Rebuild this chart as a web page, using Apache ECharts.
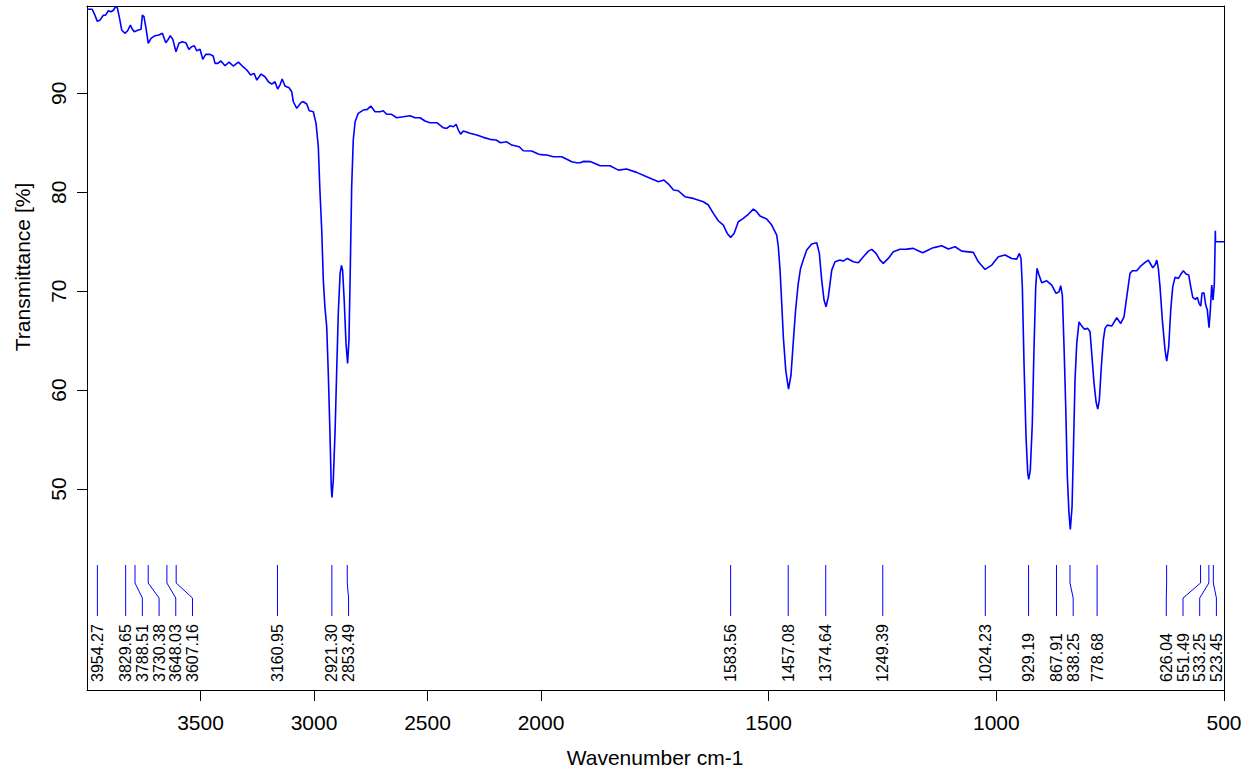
<!DOCTYPE html>
<html lang="en">
<head>
    <meta charset="UTF-8">
    <title>IR Spectrum</title>
    <script src="https://cdn.jsdelivr.net/npm/echarts@6.0.0/dist/echarts.min.js"></script>
    <style>
        html, body { margin: 0; padding: 0; background: #fff; }
        #chart { width: 1260px; height: 775px; }
    </style>
</head>
<body>
    <div id="chart"></div>

    <script>
        // spectrum (wavenumber cm-1 / transmittance %)
        const wavenumbers = [
            4000, 3977, 3965, 3955, 3943, 3928, 3918, 3906, 3894, 3884,
            3874, 3867, 3858, 3847, 3833, 3821, 3809, 3800, 3792, 3774,
            3762, 3756, 3749, 3740, 3730, 3718, 3700, 3683, 3668, 3653,
            3644, 3633, 3622, 3608, 3595, 3580, 3565, 3551, 3539, 3527,
            3517, 3502, 3490, 3477, 3458, 3444, 3436, 3424, 3410, 3392,
            3374, 3356, 3333, 3316, 3296, 3279, 3264, 3252, 3233, 3216,
            3201, 3186, 3172, 3160, 3150, 3140, 3128, 3110, 3098, 3091,
            3076, 3062, 3054, 3047, 3032, 3021, 3003, 2991, 2981, 2974,
            2966, 2959, 2952, 2944, 2937, 2930, 2924, 2921, 2915, 2907,
            2900, 2893, 2885, 2879, 2874, 2867, 2859, 2852, 2846, 2840,
            2834, 2827, 2819, 2805, 2783, 2765, 2750, 2731, 2709, 2695,
            2680, 2658, 2636, 2607, 2577, 2555, 2533, 2511, 2489, 2459,
            2430, 2415, 2401, 2386, 2374, 2364, 2354, 2342, 2313, 2283,
            2254, 2225, 2198, 2178, 2151, 2129, 2096, 2078, 2041, 2012,
            2000, 1987.5, 1973, 1954.5, 1940, 1932.6, 1921.6, 1914, 1907, 1892,
            1870, 1848.5, 1830, 1812, 1790, 1768, 1742, 1730, 1720, 1709,
            1698.5, 1684, 1665.5, 1643.5, 1632.5, 1621.5, 1610.6, 1599.6, 1591, 1583.4,
            1576, 1566.7, 1555.7, 1544.7, 1533.7, 1526.3, 1519, 1504.3, 1493.3, 1482.3,
            1478.8, 1475, 1471.3, 1467.8, 1462.5, 1456.4, 1451, 1446.5, 1441, 1435.5,
            1430, 1424, 1416.4, 1405.5, 1394.5, 1388.7, 1383.5, 1378.4, 1374, 1369,
            1361.5, 1354.3, 1343.3, 1336, 1327.3, 1314, 1303, 1292, 1281, 1273.7,
            1264.2, 1255.4, 1248.2, 1237.2, 1226.2, 1211.5, 1196.8, 1182.3, 1175, 1161.7,
            1149.4, 1142, 1134.6, 1120, 1105.4, 1090.7, 1076, 1050.5, 1039.5, 1024.8,
            1010, 995.6, 980.9, 966.2, 955.2, 949.5, 945.8, 942.9, 939.2, 934.8,
            931, 928.9, 925.4, 921, 917.2, 913.5, 910.6, 906.2, 900.3, 889.3,
            878.3, 868.9, 862.3, 858.6, 855, 851.3, 847.6, 844.1, 840.4, 837.5,
            833.7, 830.9, 827.2, 823.4, 818.4, 812.4, 806.7, 799.3, 794.2, 790.5,
            785.4, 781, 777.3, 773.8, 769.4, 765.1, 761.3, 756.3, 746.6, 735.6,
            726.8, 719.6, 713.6, 706.4, 701.3, 691.7, 682.9, 673.4, 666.2, 656.5,
            651.5, 647.7, 644.2, 640.5, 635.4, 629.5, 625.8, 621.4, 617, 612.6,
            607.5, 600.3, 594.4, 589.3, 583.4, 577.4, 573, 568.6, 562.9, 558.5,
            554.8, 551.1, 548.3, 543.9, 540.1, 536.6, 532.9, 530, 526.9, 524.1,
            521.2, 519.0, 518.6, 500
        ];
        const transmittance = [
            98.5, 98.5, 97.9, 97.3, 97.4, 97.9, 97.9, 98.35, 98.25, 98.4,
            98.75, 98.7, 97.75, 96.4, 96.07, 96.33, 96.9, 96.47, 96.23, 96.4,
            96.47, 97.9, 97.75, 96.57, 95.06, 95.56, 95.83, 95.9, 96.07, 95.12,
            95.39, 95.83, 95.46, 94.2, 95.06, 95.22, 95.12, 94.45, 94.71, 94.81,
            94.31, 94.45, 93.44, 93.94, 93.94, 93.77, 93.03, 93.03, 93.27, 92.79,
            93.16, 92.76, 93.16, 92.76, 92.36, 91.85, 92.02, 91.34, 91.95, 91.68,
            91.17, 90.94, 91.17, 90.43, 90.84, 91.45, 90.74, 90.57, 90.16, 89.15,
            88.48, 88.92, 89.12, 89.15, 88.92, 88.24, 88.14, 86.97, 84.6, 80.22,
            76.18, 71.12, 68.42, 66.4, 61.69, 55.95, 50.22, 49.15, 50.9, 55.95,
            61.98, 67.76, 71.8, 72.6, 72.13, 69.1, 64.72, 62.7, 65.05, 72.47,
            80.56, 85.28, 87.13, 87.98, 88.31, 88.38, 88.72, 88.14, 88.14, 88.24,
            87.88, 87.88, 87.53, 87.63, 87.74, 87.53, 87.53, 87.2, 87.03, 87.03,
            86.52, 86.46, 86.72, 86.62, 86.87, 86.29, 85.88, 86.19, 85.96, 85.78,
            85.55, 85.35, 85.28, 85.0, 85.1, 84.77, 84.6, 84.2, 84.17, 83.86,
            83.8, 83.76, 83.59, 83.59, 83.26, 83.08, 82.98, 82.98, 83.12, 83.1,
            82.68, 82.68, 82.24, 82.35, 82.01, 81.57, 81.06, 81.23, 80.83, 80.22,
            80.15, 79.55, 79.38, 79.04, 78.71, 77.87, 77.12, 76.68, 75.84, 75.44,
            75.84, 77.02, 77.36, 77.77, 78.3, 78.03, 77.59, 77.29, 76.68, 75.67,
            74.49, 72.13, 68.77, 65.39, 62.0, 60.1, 61.5, 64.5, 68.0, 70.6,
            72.3, 73.14, 74.16, 74.76, 74.9, 73.82, 71.12, 69.1, 68.42, 69.43,
            72.13, 72.97, 73.14, 73.04, 73.31, 72.97, 72.87, 73.48, 74.05, 74.23,
            73.82, 73.14, 72.81, 73.31, 73.98, 74.24, 74.25, 74.33, 74.16, 73.88,
            74.16, 74.33, 74.43, 74.6, 74.26, 74.49, 74.05, 73.92, 72.97, 72.2,
            72.64, 73.48, 73.65, 73.31, 73.24, 73.82, 73.31, 70.44, 62.7, 55.28,
            51.58, 50.97, 51.91, 56.63, 64.38, 70.44, 72.3, 71.63, 70.85, 71.05,
            70.62, 69.78, 69.94, 70.55, 69.6, 64.38, 58.31, 51.24, 47.53, 45.91,
            48.2, 53.6, 61.0, 64.72, 66.9, 66.47, 66.14, 66.24, 65.9, 63.71,
            60.68, 58.82, 58.08, 58.99, 62.36, 65.05, 66.24, 66.57, 66.47, 67.31,
            66.74, 67.41, 69.43, 71.8, 72.06, 72.06, 72.54, 72.91, 73.14, 72.37,
            72.64, 73.14, 72.3, 70.44, 67.08, 64.04, 62.93, 64.38, 68.09, 70.44,
            71.4, 71.29, 71.73, 72.06, 71.73, 71.63, 70.44, 69.37, 69.17, 69.37,
            68.77, 68.49, 69.78, 69.84, 68.59, 68.09, 66.3, 68.09, 70.62, 69.1,
            70.79, 76.1, 75.0, 75.0
        ];

        const peakLabels = [
            '3954.27', '3829.65', '3788.51', '3730.38', '3648.03', '3607.16',
            '3160.95', '2921.30', '2853.49',
            '1583.56', '1457.08', '1374.64', '1249.39', '1024.23', '929.19',
            '867.91', '838.25', '778.68', '626.04', '551.49', '533.25', '523.45'
        ];

        const xTicksHigh = [3500, 3000, 2500];
        const xTicksLow = [2000, 1500, 1000, 500];
        const yTicks = [50, 60, 70, 80, 90];

        const FONT = "'Liberation Sans', Arial, sans-serif";
        const BLUE = '#0000ff';
        const Y_MIN = 29.68;
        const Y_MAX = 98.83;

        const points = wavenumbers.map((w, i) => [w, transmittance[i]]);
        const highPart = points.filter(p => p[0] >= 2000);
        const lowPart = points.filter(p => p[0] <= 2000);

        const highPeaks = peakLabels.filter(l => Number(l) >= 2000);
        const lowPeaks = peakLabels.filter(l => Number(l) < 2000);

        // push crowded labels apart, keep them inside the frame
        function spreadLabels(xs, gap, maxX) {
            const pos = xs.slice();
            for (let i = 1; i < pos.length; i++) {
                pos[i] = Math.max(pos[i], pos[i - 1] + gap);
            }
            if (pos[pos.length - 1] > maxX) {
                pos[pos.length - 1] = maxX;
                for (let i = pos.length - 2; i >= 0; i--) {
                    pos[i] = Math.min(pos[i], pos[i + 1] - gap);
                }
            }
            return pos;
        }

        function peakRenderer(labels) {
            return function (params, api) {
                const cs = params.coordSys;
                const bottom = cs.y + cs.height;
                const xs = labels.map(l => api.coord([Number(l), Y_MIN])[0]);
                const pos = spreadLabels(xs, 16.7, cs.x + cs.width - 7.6);
                const i = params.dataIndex;
                const px = xs[i];
                const lx = pos[i];
                return {
                    type: 'group',
                    children: [
                        {
                            type: 'polyline',
                            shape: { points: [[px, bottom - 125], [px, bottom - 107], [lx, bottom - 92], [lx, bottom - 74]] },
                            style: { stroke: BLUE, lineWidth: 1, fill: null }
                        },
                        {
                            type: 'text',
                            x: lx,
                            y: bottom - 8,
                            rotation: Math.PI / 2,
                            style: {
                                text: labels[i],
                                fill: '#000',
                                font: '16px ' + FONT,
                                textAlign: 'left',
                                textVerticalAlign: 'middle'
                            }
                        }
                    ]
                };
            };
        }

        const axisText = { color: '#000', fontSize: 21, fontFamily: FONT, formatter: v => String(v) };
        const blackLine = { show: true, onZero: false, lineStyle: { color: '#000', width: 1 } };

        const chart = echarts.init(document.getElementById('chart'), null, { renderer: 'svg' });
        chart.setOption({
            animation: false,
            backgroundColor: '#fff',
            grid: [
                { left: 87, top: 6, width: 454, height: 684 },
                { left: 541, top: 6, width: 683, height: 684 }
            ],
            xAxis: [
                {
                    gridIndex: 0, type: 'value', position: 'bottom', min: 2000, max: 4000, inverse: true,
                    axisLine: blackLine,
                    axisTick: { show: true, length: 11, lineStyle: { color: '#000' }, customValues: xTicksHigh.concat([2000]) },
                    axisLabel: Object.assign({ margin: 22, customValues: xTicksHigh }, axisText),
                    splitLine: { show: false }
                },
                {
                    gridIndex: 1, type: 'value', position: 'bottom', min: 500, max: 2000, inverse: true,
                    axisLine: blackLine,
                    axisTick: { show: true, length: 11, lineStyle: { color: '#000' }, customValues: xTicksLow },
                    axisLabel: Object.assign({ margin: 22, customValues: xTicksLow }, axisText),
                    splitLine: { show: false }
                },
                {
                    gridIndex: 0, type: 'value', position: 'top', min: 2000, max: 4000, inverse: true,
                    axisLine: blackLine, axisTick: { show: false }, axisLabel: { show: false }, splitLine: { show: false }
                },
                {
                    gridIndex: 1, type: 'value', position: 'top', min: 500, max: 2000, inverse: true,
                    axisLine: blackLine, axisTick: { show: false }, axisLabel: { show: false }, splitLine: { show: false }
                }
            ],
            yAxis: [
                {
                    gridIndex: 0, type: 'value', position: 'left', min: Y_MIN, max: Y_MAX,
                    axisLine: blackLine,
                    axisTick: { show: true, length: 10, lineStyle: { color: '#000' }, customValues: yTicks },
                    axisLabel: Object.assign({ margin: 18, rotate: 90, customValues: yTicks }, axisText),
                    splitLine: { show: false }
                },
                {
                    gridIndex: 1, type: 'value', position: 'left', min: Y_MIN, max: Y_MAX, show: false
                },
                {
                    gridIndex: 1, type: 'value', position: 'right', min: Y_MIN, max: Y_MAX,
                    axisLine: blackLine, axisTick: { show: false }, axisLabel: { show: false }, splitLine: { show: false }
                }
            ],
            graphic: [
                {
                    type: 'text', x: 22, y: 267, rotation: Math.PI / 2,
                    style: { text: 'Transmittance [%]', fill: '#000', font: '21px ' + FONT, textAlign: 'center', textVerticalAlign: 'middle' }
                },
                {
                    type: 'text', x: 655, y: 757,
                    style: { text: 'Wavenumber cm-1', fill: '#000', font: '21px ' + FONT, textAlign: 'center', textVerticalAlign: 'middle' }
                }
            ],
            series: [
                {
                    type: 'line', xAxisIndex: 0, yAxisIndex: 0, data: highPart,
                    showSymbol: false, lineStyle: { color: BLUE, width: 1.6 }, silent: true
                },
                {
                    type: 'line', xAxisIndex: 1, yAxisIndex: 1, data: lowPart,
                    showSymbol: false, lineStyle: { color: BLUE, width: 1.6 }, silent: true
                },
                {
                    type: 'custom', xAxisIndex: 0, yAxisIndex: 0, silent: true,
                    data: highPeaks.map(l => [Number(l), Y_MIN]),
                    renderItem: peakRenderer(highPeaks)
                },
                {
                    type: 'custom', xAxisIndex: 1, yAxisIndex: 1, silent: true,
                    data: lowPeaks.map(l => [Number(l), Y_MIN]),
                    renderItem: peakRenderer(lowPeaks)
                }
            ]
        });
    </script>
</body>
</html>
